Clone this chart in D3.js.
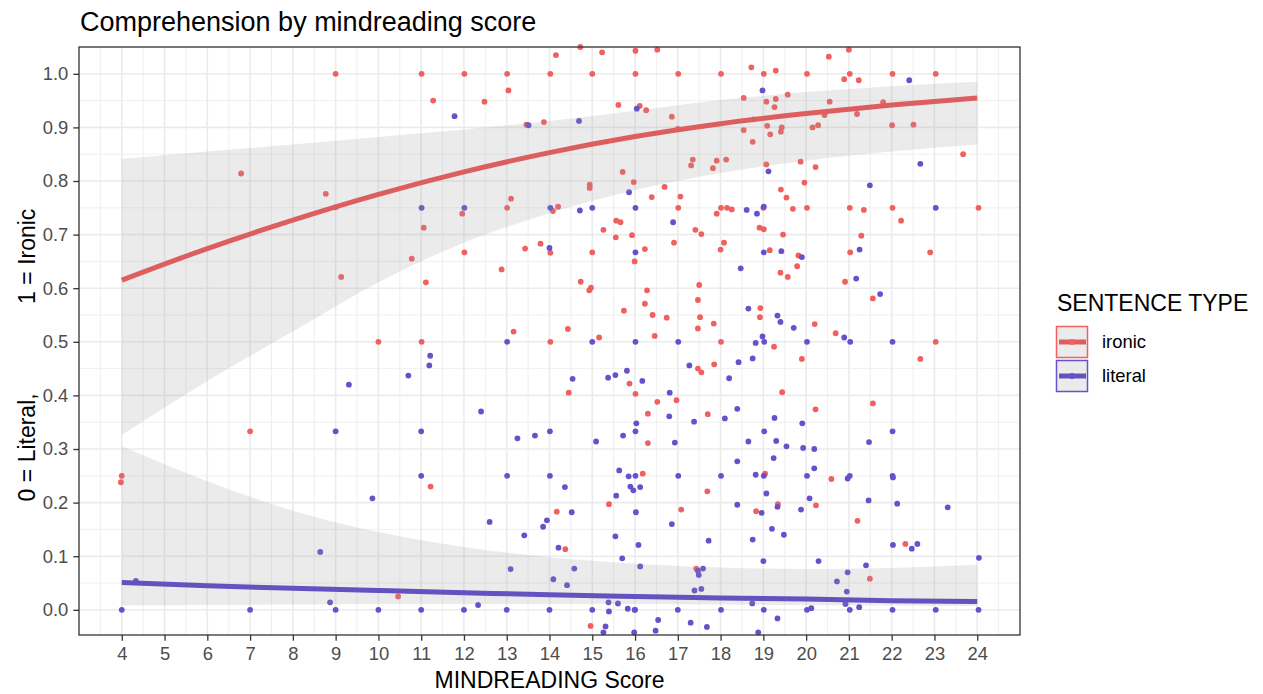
<!DOCTYPE html>
<html>
<head>
<meta charset="utf-8">
<script src="https://cdn.jsdelivr.net/npm/d3@7"></script>
<style>
  body { margin: 0; background: #fff; }
  svg { font-family: "Liberation Sans", Arial, sans-serif; }
</style>
</head>
<body>
<svg width="1263" height="694"></svg>
<script>
const ironicX = [9.0,6.79,8.77,9.0,
  11.01,12.01,13.01,14.02,15.0,16.01,17.01,14.15,14.72,15.23,16.01,16.52,11.28,12.48,13.04,
  15.61,16.11,16.26,16.86,17.0,13.46,13.87,17.35,17.31,15.71,15.97,14.94,14.94,16.69,16.39,17.06,13.1,
  13.01,17.01,14.2,14.08,11.96,11.06,15.26,15.56,15.66,15.55,15.93,17.41,17.55,
  18.01,19.01,20.02,21.02,22.02,23.03,19.29,18.72,20.53,21.0,20.89,21.23,
  18.54,19.07,19.29,19.57,19.26,20.55,21.8,20.43,21.19,18.77,19.09,18.54,19.43,19.41,19.16,20.15,20.28,22.01,22.51,18.75,23.67,
  17.91,18.13,17.82,19.07,19.87,20.22,19.96,19.41,19.54,
  18.01,18.15,19.0,20.02,21.02,22.02,24.03,18.26,17.91,19.69,21.35,22.22,18.91,19.01,19.46,21.29,
  9.13,10.0,7.0,
  10.78,12.01,11.11,12.88,13.43,13.79,14.02,15.0,15.99,16.23,16.91,14.73,14.93,14.97,16.28,16.23,15.74,16.41,16.74,
  17.5,17.47,17.52,17.47,14.43,13.16,15.16,16.46,11.01,14.02,
  15.87,16.01,14.45,17.47,17.55,16.52,16.97,16.3,17.7,
  18.08,18.0,19.15,19.82,19.79,19.4,19.57,21.03,22.9,20.91,21.56,18.93,18.92,17.84,20.2,20.69,23.03,18.01,19.25,19.9,22.67,17.85,19.44,21.56,20.22,
  4.0,3.98,10.46,
  16.3,16.18,11.22,15.39,17.08,17.69,14.17,14.37,17.43,14.96,
  19.04,20.59,18.83,19.34,20.23,21.2,22.32,21.49];
const ironicY = [1.0,0.814,0.776,0.751,
  1.0,1.0,1.0,1.0,1.0,1.0,1.0,1.035,1.05,1.04,1.043,1.045,0.95,0.948,0.969,
  0.942,0.94,0.932,0.92,0.897,0.905,0.91,0.84,0.829,0.817,0.798,0.793,0.787,0.789,0.77,0.771,0.767,
  0.75,0.75,0.752,0.744,0.739,0.713,0.709,0.726,0.723,0.695,0.699,0.709,0.701,
  1.0,1.0,1.0,1.0,1.0,1.0,1.006,1.012,1.032,1.045,0.99,0.988,
  0.955,0.948,0.953,0.961,0.938,0.948,0.947,0.923,0.925,0.915,0.903,0.895,0.9,0.892,0.887,0.9,0.904,0.904,0.905,0.873,0.85,
  0.838,0.84,0.824,0.831,0.836,0.826,0.797,0.784,0.769,
  0.75,0.75,0.75,0.75,0.75,0.75,0.75,0.747,0.739,0.748,0.746,0.726,0.713,0.71,0.7,0.698,
  0.621,0.5,0.333,
  0.655,0.667,0.611,0.635,0.674,0.683,0.666,0.667,0.65,0.673,0.685,0.612,0.596,0.601,0.596,0.571,0.558,0.55,0.545,
  0.606,0.578,0.546,0.525,0.524,0.519,0.508,0.511,0.5,0.5,
  0.422,0.403,0.405,0.45,0.443,0.388,0.391,0.366,0.365,
  0.685,0.672,0.671,0.661,0.641,0.629,0.621,0.667,0.667,0.612,0.581,0.563,0.546,0.534,0.533,0.516,0.5,0.5,0.491,0.468,0.468,0.458,0.406,0.385,0.374,
  0.25,0.238,0.025,
  0.311,0.254,0.23,0.197,0.187,0.221,0.183,0.113,0.077,-0.03,
  0.254,0.244,0.184,0.197,0.195,0.166,0.123,0.058];

const literalX = [11.78,16.04,13.51,14.69,15.86,11.01,12.01,14.02,15.0,16.01,14.71,16.89,
  22.41,18.98,22.67,19.12,21.49,19.01,23.03,18.61,18.85,
  9.31,9.0,
  14.0,16.01,13.01,15.0,16.01,17.01,11.21,11.19,10.7,14.54,15.37,15.54,15.81,16.17,17.27,16.81,16.8,17.38,12.4,16.03,
  19.01,19.42,19.9,18.47,21.25,21.17,21.73,18.65,19.33,19.4,19.71,20.89,21.03,22.02,18.98,18.82,19.02,20.02,18.75,18.42,18.2,18.39,18.1,19.26,19.91,19.02,22.02,
  9.86,8.64,4.33,8.87,4.0,7.0,9.0,10.0,
  11.0,13.25,13.66,14.01,15.09,15.72,16.01,16.93,
  11.0,13.01,14.01,16.01,15.85,17.01,14.36,15.63,15.89,15.96,16.12,15.56,16.02,16.86,14.52,13.94,13.85,12.6,13.41,15.54,14.21,16.08,15.7,16.12,17.72,
  13.09,14.58,14.09,14.41,17.47,17.59,17.49,17.39,17.55,
  11,12,13,14,15,16,17,12.33,15.38,15.6,15.39,15.83,15.99,
  15.31,15.26,15.98,16.54,16.48,17.3,17.68,
  18.65,19.3,19.54,19.93,20.19,21.47,18.39,19.24,20.19,
  18.01,19.01,18.82,20.02,20.97,21.02,22.02,22.03,19.07,20.08,21.46,22.13,18.39,18.96,19.33,19.88,23.31,19.2,19.48,18.75,
  22.03,22.47,22.6,24.04,19.0,20.29,21.4,20.97,20.72,20.95,18.74,20.92,21.24,
  18.01,19.01,20.02,20.12,21.02,22.02,23.03,24.03,19.33,18.88];
const literalY = [0.921,0.935,0.904,0.912,0.779,0.75,0.75,0.75,0.75,0.75,0.745,0.723,
  0.988,0.969,0.832,0.818,0.792,0.752,0.75,0.746,0.739,
  0.42,0.333,
  0.675,0.667,0.5,0.5,0.5,0.5,0.474,0.456,0.437,0.431,0.433,0.438,0.446,0.427,0.456,0.405,0.361,0.351,0.37,0.348,
  0.667,0.669,0.658,0.637,0.672,0.618,0.589,0.562,0.549,0.537,0.526,0.508,0.5,0.5,0.51,0.498,0.5,0.5,0.469,0.462,0.432,0.375,0.357,0.358,0.348,0.333,0.333,
  0.208,0.108,0.054,0.014,0,0,0,0,
  0.333,0.32,0.325,0.333,0.314,0.325,0.333,0.312,
  0.25,0.25,0.25,0.25,0.249,0.25,0.229,0.26,0.23,0.223,0.229,0.213,0.182,0.16,0.182,0.167,0.155,0.164,0.139,0.137,0.116,0.121,0.096,0.081,0.129,
  0.076,0.077,0.057,0.046,0.073,0.077,0.065,0.036,0.039,
  0,0,0,0,0,0,0,0.009,0.014,0.012,-0.003,0.002,0.0,
  -0.031,-0.042,-0.042,-0.019,-0.039,-0.024,-0.032,
  0.314,0.315,0.305,0.302,0.3,0.313,0.277,0.283,0.264,
  0.25,0.25,0.252,0.25,0.245,0.25,0.25,0.247,0.217,0.208,0.204,0.198,0.196,0.181,0.192,0.187,0.191,0.151,0.14,0.131,
  0.121,0.114,0.123,0.097,0.091,0.091,0.083,0.07,0.053,0.034,0.012,0.011,0.005,
  0,0,0,0.003,0,0,0,0,-0.016,-0.042];

// fitted curves and confidence bands, read at these scores
const fitX = [4, 6, 8, 10, 12, 14, 16, 18, 20, 22, 24];
const ironicFit = [0.615, 0.674, 0.727, 0.775, 0.817, 0.853, 0.883, 0.907, 0.926, 0.942, 0.955];
const ironicLo  = [0.326, 0.427, 0.519, 0.611, 0.685, 0.740, 0.783, 0.815, 0.838, 0.855, 0.868];
const ironicHi  = [0.841, 0.855, 0.868, 0.882, 0.896, 0.912, 0.931, 0.951, 0.966, 0.977, 0.985];
const literalFit = [0.051, 0.045, 0.040, 0.036, 0.032, 0.028, 0.025, 0.022, 0.020, 0.017, 0.0155];
const literalLo  = [0.008, 0.009, 0.010, 0.011, 0.011, 0.011, 0.011, 0.010, 0.009, 0.008, 0.007];
const literalHi  = [0.305, 0.240, 0.185, 0.145, 0.117, 0.098, 0.086, 0.079, 0.076, 0.078, 0.084];

const xTicks = d3.range(4, 25, 1);
const yTicks = d3.range(0, 11).map(d => d / 10);
const types = ["ironic", "literal"];

const pointCol = { ironic: "#f15f5f", literal: "#6650cc" };
const lineCol = { ironic: "#dd5e5e", literal: "#6352bf" };

const L = 79, R = 1020, T = 47, B = 635;
const x = d3.scaleLinear().domain([3, 25]).range([L, R]);
const y = d3.scaleLinear().domain([-0.047, 1.05]).range([B, T]);

const svg = d3.select("svg");

// grid
const grid = svg.append("g");
grid.selectAll(".vmin").data(d3.range(3.5, 25, 1)).enter().append("line")
  .attr("x1", d => x(d)).attr("x2", d => x(d)).attr("y1", T).attr("y2", B)
  .attr("stroke", "#ebebeb").attr("stroke-width", 0.8);
grid.selectAll(".hmin").data(d3.range(-0.05, 1.06, 0.1).filter(d => d > -0.047)).enter().append("line")
  .attr("x1", L).attr("x2", R).attr("y1", d => y(d)).attr("y2", d => y(d))
  .attr("stroke", "#ebebeb").attr("stroke-width", 0.8);
grid.selectAll(".vmaj").data(xTicks).enter().append("line")
  .attr("x1", d => x(d)).attr("x2", d => x(d)).attr("y1", T).attr("y2", B)
  .attr("stroke", "#ebebeb").attr("stroke-width", 1.6);
grid.selectAll(".hmaj").data(yTicks).enter().append("line")
  .attr("x1", L).attr("x2", R).attr("y1", d => y(d)).attr("y2", d => y(d))
  .attr("stroke", "#ebebeb").attr("stroke-width", 1.6);

// points
const pts = [
  { type: "ironic", xs: ironicX, ys: ironicY },
  { type: "literal", xs: literalX, ys: literalY }
];
pts.forEach(s => {
  svg.append("g").selectAll("circle")
    .data(s.xs.map((v, i) => [v, s.ys[i]]))
    .enter().append("circle")
    .attr("cx", d => x(d[0])).attr("cy", d => y(d[1])).attr("r", 2.9)
    .attr("fill", pointCol[s.type]);
});

// smooths
const fits = [
  { type: "ironic", fit: ironicFit, lo: ironicLo, hi: ironicHi },
  { type: "literal", fit: literalFit, lo: literalLo, hi: literalHi }
];
const area = d3.area().curve(d3.curveMonotoneX)
  .x(d => x(d.x)).y0(d => y(d.lo)).y1(d => y(d.hi));
const line = d3.line().curve(d3.curveMonotoneX)
  .x(d => x(d.x)).y(d => y(d.v));
fits.forEach(f => {
  svg.append("path")
    .datum(fitX.map((v, i) => ({ x: v, lo: f.lo[i], hi: f.hi[i] })))
    .attr("d", area).attr("fill", "#999999").attr("fill-opacity", 0.2);
});
fits.forEach(f => {
  svg.append("path")
    .datum(fitX.map((v, i) => ({ x: v, v: f.fit[i] })))
    .attr("d", line).attr("fill", "none")
    .attr("stroke", lineCol[f.type]).attr("stroke-width", 5);
});

// border
svg.append("rect").attr("x", L).attr("y", T).attr("width", R - L).attr("height", B - T)
  .attr("fill", "none").attr("stroke", "#333333").attr("stroke-width", 1.3);

// axes
const xAxis = svg.append("g").attr("transform", `translate(0,${B})`)
  .call(d3.axisBottom(x).tickValues(xTicks).tickSize(5.7).tickPadding(6).tickFormat(d3.format("d")));
const yAxis = svg.append("g").attr("transform", `translate(${L},0)`)
  .call(d3.axisLeft(y).tickValues(yTicks).tickSize(5.7).tickPadding(5).tickFormat(d3.format(".1f")));
[xAxis, yAxis].forEach(a => {
  a.select(".domain").remove();
  a.selectAll(".tick line").attr("stroke", "#333333").attr("stroke-width", 1.3);
  a.selectAll(".tick text").attr("fill", "#4d4d4d").style("font-size", "18.4px")
    .style("font-family", "Liberation Sans, Arial, sans-serif");
});

// titles
svg.append("text").attr("x", 80).attr("y", 30.5).style("font-size", "27px").attr("fill", "#000")
  .text("Comprehension by mindreading score");
svg.append("text").attr("x", (L + R) / 2).attr("y", 688).attr("text-anchor", "middle")
  .style("font-size", "23px").text("MINDREADING Score");
svg.append("text").attr("transform", `translate(35,355) rotate(-90)`)
  .attr("text-anchor", "middle").style("font-size", "23px").style("white-space", "pre")
  .text("0 = Literal,              1 = Ironic");

// legend
const lg = svg.append("g");
lg.append("text").attr("x", 1057).attr("y", 311).style("font-size", "23px").text("SENTENCE TYPE");
types.forEach((t, i) => {
  const ky = 326 + i * 34;
  lg.append("rect").attr("x", 1056.5).attr("y", ky + 0.5).attr("width", 31).attr("height", 31)
    .attr("fill", "#ebebeb").attr("stroke", pointCol[t]).attr("stroke-width", 1.5);
  lg.append("line").attr("x1", 1059).attr("x2", 1086).attr("y1", ky + 16).attr("y2", ky + 16)
    .attr("stroke", lineCol[t]).attr("stroke-width", 5);
  lg.append("circle").attr("cx", 1072).attr("cy", ky + 16).attr("r", 2.9).attr("fill", pointCol[t]);
  lg.append("text").attr("x", 1102).attr("y", ky + 16).attr("dy", "0.35em")
    .style("font-size", "18.4px").text(t);
});
</script>
</body>
</html>
